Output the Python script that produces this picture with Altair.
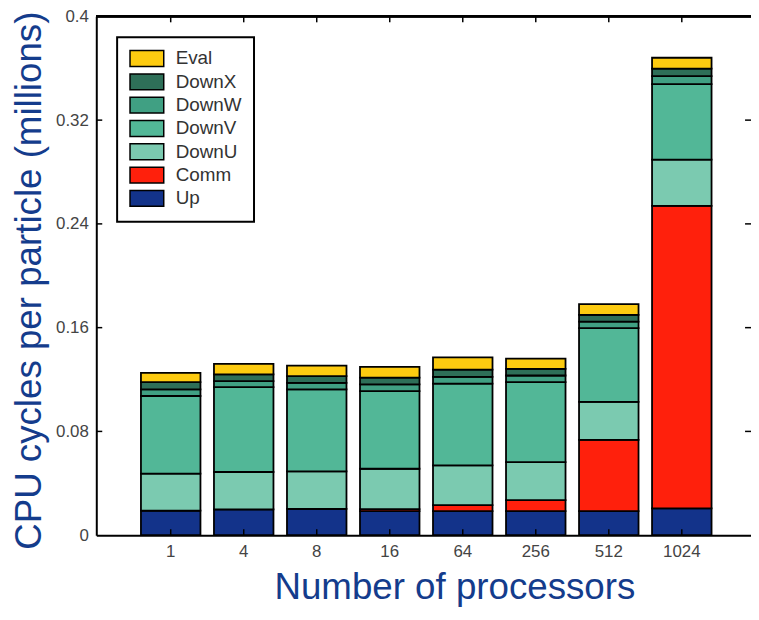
import altair as alt
import pandas as pd

processors = ["1", "4", "8", "16", "64", "256", "512", "1024"]

up = [0.0189, 0.0199, 0.0203, 0.0186, 0.0186, 0.0186, 0.0186, 0.0206]
comm = [0.0, 0.0, 0.0, 0.0015, 0.0046, 0.0084, 0.0548, 0.2333]
down_u = [0.0285, 0.0288, 0.0289, 0.0311, 0.0306, 0.0293, 0.0293, 0.0357]
down_v = [0.0599, 0.0655, 0.0632, 0.0599, 0.0630, 0.0617, 0.0569, 0.0582]
down_w = [0.0051, 0.0046, 0.0051, 0.0052, 0.0053, 0.0051, 0.0051, 0.0061]
down_x = [0.0056, 0.0051, 0.0051, 0.0051, 0.0056, 0.0051, 0.0051, 0.0058]
eval_ = [0.0072, 0.0082, 0.0082, 0.0084, 0.0094, 0.0079, 0.0084, 0.0084]

stack_order = ["Up", "Comm", "DownU", "DownV", "DownW", "DownX", "Eval"]
legend_order = ["Eval", "DownX", "DownW", "DownV", "DownU", "Comm", "Up"]
legend_colors = ["#FDCB10", "#2E6F58", "#40A083", "#52B797", "#7BCAB0", "#FF200C", "#13338A"]

y_ticks = [0, 0.08, 0.16, 0.24, 0.32, 0.4]
inner_ticks = [0.08, 0.16, 0.24, 0.32]

series_values = [up, comm, down_u, down_v, down_w, down_x, eval_]
rows = []
for i, (name, vals) in enumerate(zip(stack_order, series_values)):
    for p, v in zip(processors, vals):
        rows.append({"proc": p, "series": name, "value": v, "idx": i})
df = pd.DataFrame(rows)

W, H = 660, 523
BLUE = "#143C8C"
FONT = "Liberation Sans"

xscale = alt.Scale(domain=processors, paddingInner=0.185, paddingOuter=0.576, align=0.531)
yscale = alt.Scale(domain=[0, 0.4], nice=False, zero=True)

x_axis = alt.Axis(
    title="Number of processors", labelAngle=0, ticks=False, grid=False,
    domainColor="black", domainWidth=2, labelFontSize=17, labelColor="#444444",
    labelPadding=9, titleFontSize=37, titleColor=BLUE, titleFontWeight="normal",
    titleX=361, titleY=64, titleBaseline="alphabetic", titleAlign="center",
)
y_axis = alt.Axis(
    title="CPU cycles per particle (millions)", values=y_ticks, format=".2~f",
    ticks=False, grid=False, domainColor="black", domainWidth=2,
    labelFontSize=17, labelColor="#444444", labelPadding=8,
    titleFontSize=37, titleColor=BLUE, titleFontWeight="normal",
    titleX=-56, titleY=266, titleAngle=270, titleBaseline="alphabetic", titleAlign="center",
)

bars = alt.Chart(df).mark_bar(stroke="black", strokeWidth=1.8).encode(
    x=alt.X("proc:N", sort=processors, scale=xscale, axis=x_axis),
    y=alt.Y("value:Q", stack="zero", scale=yscale, axis=y_axis),
    color=alt.Color(
        "series:N",
        scale=alt.Scale(domain=legend_order, range=legend_colors),
        legend=alt.Legend(
            orient="none", legendX=21, legendY=21, title=None,
            fillColor="white", strokeColor="black", padding=12,
            symbolType="M-1,-0.94H3V0.94H-1Z", symbolSize=289,
            symbolStrokeColor="black", symbolStrokeWidth=1.5, symbolOpacity=1,
            labelFontSize=19, labelColor="#333333", labelFont=FONT,
            labelOffset=28, rowPadding=0.5,
        ),
    ),
    order=alt.Order("idx:Q", sort="ascending"),
)

tick_df = pd.DataFrame({"value": inner_ticks})
proc_df = pd.DataFrame({"proc": processors})

left_ticks = alt.Chart(tick_df).mark_rule(color="black", strokeWidth=1.5).encode(
    y=alt.Y("value:Q"), x=alt.value(0), x2=alt.value(6)
)
right_ticks = alt.Chart(tick_df).mark_rule(color="black", strokeWidth=1.5).encode(
    y=alt.Y("value:Q"), x=alt.value(W - 6), x2=alt.value(W)
)
bottom_ticks = alt.Chart(proc_df).mark_rule(color="black", strokeWidth=1.5).encode(
    x=alt.X("proc:N", sort=processors), y=alt.value(H), y2=alt.value(H - 6)
)
top_ticks = alt.Chart(proc_df).mark_rule(color="black", strokeWidth=1.5).encode(
    x=alt.X("proc:N", sort=processors), y=alt.value(0), y2=alt.value(6)
)
top_border = alt.Chart(proc_df).mark_rule(color="black", strokeWidth=2).encode(
    x=alt.value(0), x2=alt.value(W), y=alt.value(0)
)

chart = alt.layer(bars, left_ticks, right_ticks, bottom_ticks, top_ticks, top_border).properties(
    width=W, height=H,
    autosize=alt.AutoSizeParams(type="none"),
    padding={"left": 89, "top": 6, "right": 0, "bottom": 73},
).configure_view(stroke=None).configure(font=FONT).configure_legend(strokeWidth=2)

chart.save("out.html", embed_options={"renderer": "svg", "actions": False})
